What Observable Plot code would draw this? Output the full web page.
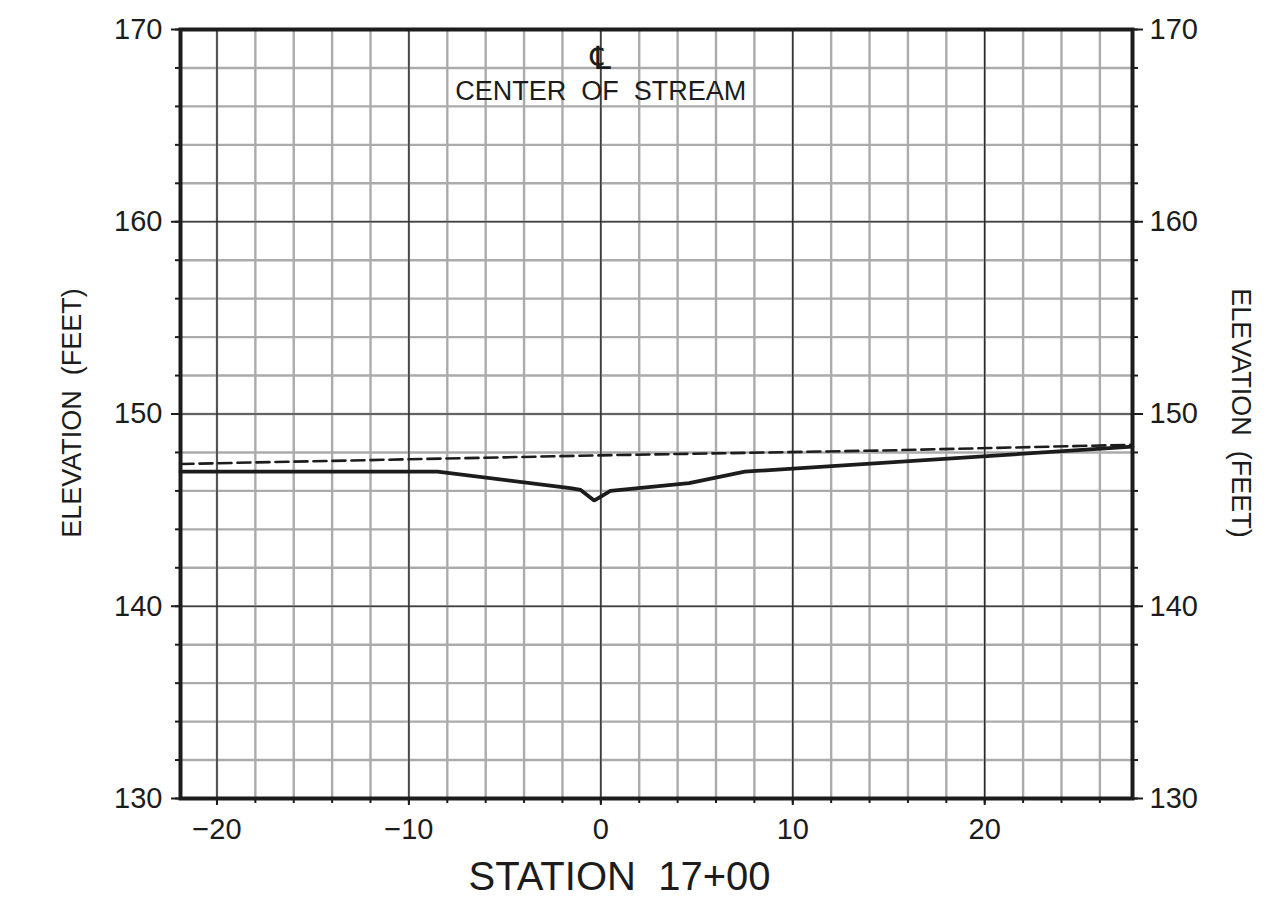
<!DOCTYPE html>
<html>
<head>
<meta charset="utf-8">
<script src="https://cdn.jsdelivr.net/npm/d3@7"></script>
<script src="https://cdn.jsdelivr.net/npm/@observablehq/plot@0.6"></script>
<style>
  html, body { margin: 0; padding: 0; background: #fff; }
</style>
</head>
<body>
<div id="chart"></div>
<script>
// ---- data ----
const groundStation = [-21.9, -8.5, -1.6, -1.05, -0.35, 0.5, 4.6, 7.5, 27.7];
const groundElev    = [147.0, 147.0, 146.15, 146.05, 145.5, 146.0, 146.4, 147.0, 148.3];
const waterStation  = [-21.9, 0, 14.6, 27.7];
const waterElev     = [147.4, 147.85, 148.1, 148.4];
const xMinorTicks = d3.range(-20, 28, 2);
const xMajorTicks = [-20, -10, 0, 10, 20];
const yMinorTicks = d3.range(130, 171, 2);
const yMajorTicks = [130, 140, 150, 160, 170];
const xLabel = "STATION\u00a0\u00a017+00";
const yLabel = "ELEVATION\u00a0\u00a0(FEET)";
const centerSymbol = "\u2104";
const centerLabel = "CENTER\u00a0\u00a0OF\u00a0\u00a0STREAM";

const ground = groundStation.map((x, i) => ({x, y: groundElev[i]}));
const water = waterStation.map((x, i) => ({x, y: waterElev[i]}));
const fmt = d => (d < 0 ? "\u2212" + Math.abs(d) : String(d));

const ink = "#1c1c1c";
const font = "Liberation Sans, Arial, sans-serif";

const chart = Plot.plot({
  width: 1271,
  height: 921,
  marginLeft: 180,
  marginRight: 139,
  marginTop: 29,
  marginBottom: 123,
  style: {fontFamily: font, color: ink, background: "#fff"},
  x: {domain: [-21.9, 27.7], axis: null},
  y: {domain: [130, 170], axis: null},
  marks: [
    Plot.gridX(xMinorTicks, {stroke: "#ababab", strokeWidth: 2.4, strokeOpacity: 1}),
    Plot.gridY(yMinorTicks, {stroke: "#ababab", strokeWidth: 2.4, strokeOpacity: 1}),
    Plot.gridX(xMajorTicks, {stroke: ink, strokeWidth: 1.2, strokeOpacity: 1}),
    Plot.gridY(yMajorTicks, {stroke: ink, strokeWidth: 1.2, strokeOpacity: 1}),
    Plot.line(water, {x: "x", y: "y", stroke: ink, strokeWidth: 2.6, strokeDasharray: "13,6"}),
    Plot.line(ground, {x: "x", y: "y", stroke: ink, strokeWidth: 3.8, strokeLinejoin: "miter"}),
    Plot.frame({stroke: ink, strokeWidth: 4}),
    // bottom axis
    Plot.axisX(xMinorTicks, {anchor: "bottom", tickSize: 5, tickFormat: () => "", label: null, stroke: ink, strokeWidth: 2}),
    Plot.axisX(xMajorTicks, {anchor: "bottom", tickSize: 7, tickPadding: 13, tickFormat: fmt, label: null, fontSize: 29, stroke: ink, strokeWidth: 2, fill: ink}),
    // left axis
    Plot.axisY(yMinorTicks, {anchor: "left", tickSize: 5, tickFormat: () => "", label: null, stroke: ink, strokeWidth: 2}),
    Plot.axisY(yMajorTicks, {anchor: "left", tickSize: 9, tickPadding: 9, tickFormat: fmt, label: null, fontSize: 29, stroke: ink, strokeWidth: 2, fill: ink}),
    // right axis
    Plot.axisY(yMinorTicks, {anchor: "right", tickSize: 5, tickFormat: () => "", label: null, stroke: ink, strokeWidth: 2}),
    Plot.axisY(yMajorTicks, {anchor: "right", tickSize: 10, tickPadding: 7, tickFormat: fmt, label: null, fontSize: 29, stroke: ink, strokeWidth: 2, fill: ink}),
    // axis titles
    Plot.text([xLabel], {frameAnchor: "bottom", dx: -37, dy: 91, text: d => d, fontSize: 40, fill: ink, textAnchor: "middle"}),
    Plot.text([yLabel], {frameAnchor: "left", dx: -108, dy: -1, rotate: -90, text: d => d, fontSize: 27, fill: ink, textAnchor: "middle"}),
    Plot.text([yLabel], {frameAnchor: "right", dx: 108, dy: -1, rotate: 90, text: d => d, fontSize: 27, fill: ink, textAnchor: "middle"}),
    // centerline annotation
    Plot.text([centerSymbol], {x: () => 0, frameAnchor: "top", dy: 17, text: d => d, fontSize: 32, fill: ink, fontFamily: "DejaVu Sans"}),
    Plot.text([centerLabel], {x: () => 0, frameAnchor: "top", dy: 51, text: d => d, fontSize: 27, fill: ink})
  ]
});
document.getElementById("chart").appendChild(chart);
</script>
</body>
</html>
